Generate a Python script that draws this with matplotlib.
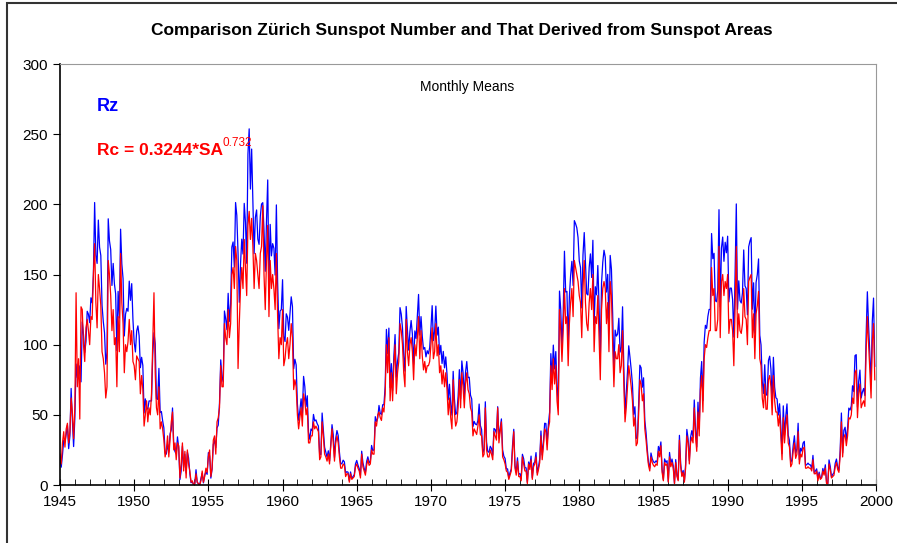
import numpy as np
import matplotlib.pyplot as plt
from matplotlib.patches import Rectangle

# monthly means, Jan..Dec, one row per year 1945-1999
years = np.arange(1945, 2000)

rz = [
    18.5, 12.7, 21.5, 32.0, 30.6, 36.2, 42.6, 25.9, 34.9, 68.8, 46.0, 27.4,      # 1945
    47.6, 86.2, 76.6, 75.7, 84.9, 73.5, 116.2, 107.2, 94.4, 102.3, 123.8, 121.7,  # 1946
    115.7, 133.4, 129.8, 149.8, 201.3, 163.9, 157.9, 188.8, 169.4, 163.6, 128.0, 116.5,
    108.5, 86.1, 94.8, 189.7, 174.0, 167.8, 142.2, 157.9, 143.3, 136.3, 95.8, 138.0,
    119.1, 182.3, 157.5, 147.0, 106.2, 121.7, 125.8, 123.8, 145.3, 131.6, 143.5, 117.6,
    101.6, 94.8, 109.7, 113.4, 106.2, 83.6, 91.0, 85.2, 51.3, 61.4, 54.8, 54.1,   # 1950
    59.9, 59.9, 59.9, 92.9, 108.5, 100.6, 61.5, 61.0, 83.1, 51.6, 52.4, 45.8,
    40.7, 22.7, 22.0, 29.1, 23.4, 36.4, 39.3, 54.9, 28.2, 23.8, 22.1, 34.3,
    26.5, 3.9, 10.0, 27.8, 12.5, 21.8, 8.6, 23.5, 19.3, 8.2, 1.6, 2.5,
    0.2, 0.5, 10.9, 1.8, 0.8, 0.2, 4.8, 8.4, 1.5, 7.0, 9.2, 7.6,
    23.1, 20.8, 4.9, 11.3, 28.9, 31.7, 26.7, 40.7, 42.7, 58.5, 89.2, 76.9,        # 1955
    73.6, 124.0, 118.4, 110.7, 136.6, 116.6, 129.1, 169.6, 173.2, 155.3, 201.3, 192.1,
    165.0, 130.2, 157.4, 175.2, 164.6, 200.7, 187.2, 158.0, 235.8, 253.8, 210.9, 239.4,
    202.5, 164.9, 190.7, 196.0, 175.3, 171.5, 191.4, 200.2, 201.2, 181.5, 152.3, 187.6,
    217.4, 143.1, 185.7, 163.3, 172.0, 168.7, 149.6, 199.6, 145.2, 111.4, 124.0, 125.0,
    146.3, 106.0, 102.2, 122.0, 119.6, 110.2, 121.7, 134.1, 127.2, 82.8, 89.6, 85.6,  # 1960
    57.9, 46.1, 53.0, 61.4, 51.0, 77.4, 70.2, 55.9, 63.6, 37.7, 32.6, 39.9,
    38.7, 50.3, 45.6, 46.4, 43.7, 42.0, 21.8, 21.8, 51.3, 39.5, 26.9, 23.2,
    19.8, 24.4, 17.1, 29.3, 43.0, 35.9, 19.6, 33.2, 38.8, 35.3, 23.4, 14.9,
    15.3, 17.7, 16.5, 8.6, 9.5, 9.1, 3.1, 9.3, 4.7, 6.1, 7.4, 15.1,
    17.5, 14.2, 11.7, 6.8, 24.1, 15.9, 11.9, 8.9, 16.8, 20.1, 15.8, 17.0,         # 1965
    28.2, 24.4, 25.3, 48.7, 45.3, 47.7, 56.7, 51.2, 50.2, 57.2, 57.2, 70.4,
    110.9, 93.6, 111.8, 69.5, 86.5, 67.3, 91.5, 107.2, 76.8, 88.2, 94.3, 126.4,
    121.8, 111.9, 92.2, 81.2, 127.2, 110.3, 96.1, 109.3, 117.2, 107.7, 86.0, 109.8,
    104.4, 120.5, 135.8, 106.8, 120.0, 106.0, 96.8, 98.0, 91.3, 95.7, 93.5, 97.9,
    111.5, 127.8, 102.9, 109.5, 127.5, 106.8, 112.5, 93.0, 99.5, 86.6, 95.2, 83.5,  # 1970
    91.3, 79.0, 60.7, 71.8, 57.5, 49.8, 81.0, 61.4, 50.2, 51.7, 63.2, 82.2,
    61.5, 88.4, 80.1, 63.2, 80.5, 88.0, 76.5, 76.8, 64.0, 61.3, 41.6, 45.3,
    43.4, 42.9, 46.0, 57.7, 42.4, 39.5, 23.1, 25.6, 59.3, 30.7, 23.9, 23.3,
    27.6, 26.0, 21.3, 40.3, 39.5, 36.6, 55.8, 33.6, 40.2, 47.1, 25.0, 20.5,
    18.9, 11.5, 11.5, 5.1, 9.0, 11.4, 28.2, 39.7, 13.9, 9.1, 19.4, 7.8,           # 1975
    8.1, 4.3, 21.9, 18.8, 12.4, 12.2, 1.9, 16.4, 13.5, 20.6, 5.2, 15.3,
    16.4, 23.1, 8.7, 12.9, 18.6, 38.5, 21.4, 30.1, 44.0, 43.8, 29.1, 43.2,
    51.9, 93.6, 76.5, 99.7, 82.7, 95.1, 70.4, 58.1, 138.2, 125.1, 97.9, 122.7,
    166.6, 137.5, 138.0, 101.5, 134.4, 149.5, 159.4, 142.2, 188.4, 186.2, 183.3, 176.3,
    159.6, 155.0, 126.2, 164.1, 179.9, 157.3, 136.3, 135.4, 155.0, 164.7, 147.9, 174.4,  # 1980
    114.0, 141.3, 135.5, 156.4, 127.5, 90.0, 143.8, 158.7, 167.3, 162.4, 137.5, 150.1,
    111.2, 163.6, 153.8, 122.0, 82.2, 110.4, 106.1, 107.6, 118.8, 94.7, 98.1, 127.0,
    84.3, 51.0, 66.5, 80.7, 99.2, 91.1, 82.2, 71.8, 50.3, 55.8, 33.3, 33.4,
    57.0, 85.4, 83.5, 69.7, 76.4, 46.1, 37.4, 25.5, 15.7, 12.0, 22.8, 18.7,
    16.5, 15.9, 17.2, 16.2, 27.5, 24.2, 30.7, 11.1, 3.9, 18.6, 16.2, 17.3,        # 1985
    2.5, 23.2, 15.1, 18.5, 13.7, 1.1, 18.1, 7.4, 3.8, 35.4, 15.2, 6.8,
    10.4, 2.4, 14.7, 39.6, 33.0, 17.4, 33.9, 38.7, 33.9, 60.6, 39.9, 27.1,
    59.0, 40.0, 76.2, 88.0, 60.1, 101.8, 113.8, 111.6, 120.1, 125.1, 125.1, 179.2,
    161.3, 165.1, 131.4, 130.6, 138.5, 196.2, 126.9, 168.9, 176.7, 159.4, 173.0, 165.5,
    177.3, 130.5, 140.3, 140.3, 132.2, 105.4, 149.4, 200.3, 125.2, 145.5, 131.4, 129.7,  # 1990
    136.9, 167.5, 141.9, 140.0, 121.3, 169.7, 173.7, 176.3, 125.3, 144.1, 108.2, 144.4,
    150.0, 161.1, 106.7, 99.8, 73.8, 65.2, 85.7, 64.5, 63.9, 88.7, 91.8, 82.6,
    59.3, 91.0, 69.8, 62.2, 61.3, 49.8, 57.9, 42.2, 22.4, 56.4, 35.6, 48.9,
    57.8, 35.5, 31.7, 16.1, 17.8, 28.0, 35.1, 22.5, 25.7, 44.0, 18.0, 26.2,
    24.2, 29.9, 31.1, 14.0, 14.5, 15.6, 14.5, 14.3, 11.8, 21.1, 9.0, 10.0,        # 1995
    11.5, 4.4, 9.2, 4.8, 5.5, 11.8, 8.2, 14.4, 1.6, 0.9, 17.9, 13.3,
    5.7, 7.6, 8.7, 15.5, 18.5, 12.7, 10.4, 24.4, 51.3, 22.8, 39.0, 41.2,
    31.9, 40.3, 54.8, 53.4, 56.3, 70.7, 66.6, 92.2, 92.9, 55.5, 74.0, 81.9,
    62.0, 66.3, 68.8, 63.7, 106.4, 137.7, 113.5, 93.7, 71.5, 116.7, 133.2, 84.6,
]

rc = [
    22, 15, 30, 38, 27, 40, 44, 30, 38, 62, 52, 33,                 # 1945
    55, 137, 70, 90, 47, 127, 125, 100, 88, 112, 118, 110,          # 1946
    100, 120, 118, 150, 172, 130, 112, 150, 140, 128, 95, 90,
    80, 62, 70, 160, 150, 135, 110, 125, 100, 105, 70, 120,
    95, 165, 130, 115, 80, 100, 95, 102, 118, 100, 110, 88,
    85, 75, 92, 90, 88, 65, 78, 68, 42, 50, 60, 45,                 # 1950
    55, 50, 65, 100, 137, 80, 55, 50, 70, 40, 45, 40,
    32, 20, 25, 35, 20, 33, 45, 52, 25, 30, 18, 30,
    28, 5, 15, 30, 10, 24, 5, 25, 15, 10, 2, 3,
    0, 1, 8, 2, 1, 0, 3, 10, 2, 6, 12, 9,
    20, 25, 6, 12, 32, 35, 22, 45, 48, 55, 85, 70,                  # 1955
    70, 115, 105, 100, 125, 105, 115, 150, 155, 140, 170, 160,
    83, 115, 140, 155, 140, 175, 155, 135, 185, 195, 175, 190,
    170, 140, 165, 160, 150, 140, 165, 170, 199, 150, 125, 160,
    185, 120, 160, 140, 150, 140, 125, 165, 120, 90, 105, 100,
    125, 85, 90, 100, 105, 90, 100, 115, 105, 68, 75, 70,           # 1960
    50, 40, 48, 55, 42, 65, 60, 50, 55, 30, 30, 35,
    35, 45, 40, 42, 40, 38, 18, 20, 45, 35, 22, 20,
    17, 22, 15, 27, 40, 30, 17, 30, 35, 30, 20, 12,
    12, 15, 14, 6, 8, 8, 2, 8, 4, 5, 6, 13,
    15, 12, 10, 5, 22, 13, 10, 7, 14, 18, 14, 15,                   # 1965
    25, 22, 22, 45, 42, 50, 52, 48, 46, 55, 52, 65,
    100, 80, 105, 60, 80, 60, 85, 100, 65, 80, 88, 115,
    110, 100, 80, 70, 118, 95, 85, 100, 105, 95, 75, 100,
    92, 105, 120, 90, 110, 92, 82, 88, 80, 85, 85, 88,
    100, 112, 90, 95, 115, 92, 100, 80, 85, 72, 82, 70,             # 1970
    80, 68, 50, 62, 48, 40, 75, 52, 42, 45, 55, 75,
    55, 80, 70, 55, 72, 80, 68, 65, 55, 52, 35, 40,
    38, 36, 42, 50, 36, 35, 20, 22, 55, 25, 20, 20,
    25, 22, 18, 38, 35, 32, 55, 30, 38, 45, 20, 18,
    15, 10, 9, 4, 7, 10, 25, 38, 12, 7, 17, 6,                      # 1975
    6, 3, 20, 15, 10, 10, 1, 15, 11, 18, 4, 13,
    15, 20, 7, 11, 16, 35, 18, 28, 40, 38, 25, 40,
    45, 85, 68, 90, 72, 85, 60, 50, 125, 110, 88, 110,
    140, 115, 120, 85, 115, 130, 140, 120, 160, 155, 150, 145,
    135, 130, 105, 140, 160, 130, 115, 110, 130, 140, 125, 150,     # 1980
    95, 120, 115, 135, 105, 75, 125, 140, 145, 140, 115, 130,
    95, 145, 135, 100, 70, 95, 90, 90, 100, 80, 85, 110,
    72, 45, 55, 70, 85, 78, 70, 60, 42, 48, 28, 30,
    50, 75, 72, 60, 65, 40, 32, 22, 14, 10, 20, 16,
    14, 13, 15, 14, 24, 20, 28, 9, 3, 16, 14, 15,                   # 1985
    2, 20, 13, 16, 12, 1, 16, 6, 3, 32, 13, 6,
    9, 2, 12, 35, 30, 15, 30, 34, 30, 55, 35, 24,
    52, 35, 68, 78, 52, 90, 100, 98, 105, 110, 110, 155,
    135, 140, 110, 110, 118, 170, 105, 145, 150, 135, 145, 140,
    150, 108, 118, 118, 110, 85, 125, 170, 105, 122, 110, 108,      # 1990
    115, 140, 120, 118, 100, 145, 148, 150, 105, 122, 90, 122,
    128, 138, 90, 85, 62, 55, 72, 54, 54, 75, 78, 70,
    50, 78, 60, 52, 52, 42, 50, 35, 18, 48, 30, 42,
    50, 30, 27, 13, 15, 24, 30, 19, 22, 38, 15, 22,
    20, 26, 27, 12, 12, 13, 12, 12, 10, 18, 8, 8,                   # 1995
    10, 3, 8, 4, 5, 10, 7, 12, 1, 1, 15, 11,
    5, 6, 7, 13, 16, 11, 9, 21, 45, 20, 34, 36,
    28, 35, 48, 47, 50, 62, 58, 80, 82, 48, 65, 72,
    55, 58, 60, 56, 95, 120, 100, 82, 62, 102, 115, 75,
]

t = np.repeat(years, 12) + np.tile(np.arange(12), len(years)) / 12.0

plt.rcParams['font.family'] = ['Liberation Sans', 'DejaVu Sans']

fig = plt.figure(figsize=(8.97, 5.43), dpi=100)
ax = fig.add_axes([0.0669, 0.1068, 0.9097, 0.7753])

ax.plot(t, rz, color='#0000FF', lw=0.9)
ax.plot(t, rc, color='#FF0000', lw=0.9)

ax.set_xlim(1945, 2000)
ax.set_ylim(0, 300)
ax.set_xticks(np.arange(1945, 2001, 5))
ax.set_xticks(np.arange(1945, 2001, 1), minor=True)
ax.set_yticks(np.arange(0, 301, 50))
ax.tick_params(axis='x', which='major', direction='inout', length=8, labelsize=11, pad=3)
ax.tick_params(axis='x', which='minor', direction='in', length=4)
ax.tick_params(axis='y', which='major', direction='out', length=5, labelsize=11)

for s in ['top', 'right']:
    ax.spines[s].set_color('#999999')
for s in ['left', 'bottom']:
    ax.spines[s].set_color('black')
    ax.spines[s].set_linewidth(1.2)

fig.text(0.515, 0.943, 'Comparison Zürich Sunspot Number and That Derived from Sunspot Areas',
         ha='center', va='center', fontsize=12.5, fontweight='bold')
ax.text(0.499, 0.945, 'Monthly Means', transform=ax.transAxes, ha='center', va='center', fontsize=10)
ax.text(0.045, 0.90, 'Rz', transform=ax.transAxes, color='#0000FF', fontsize=13,
        fontweight='bold', va='center')
rc_lab = ax.text(0.045, 0.795, 'Rc = 0.3244*SA', transform=ax.transAxes, color='#FF0000',
                 fontsize=12.5, fontweight='bold', va='center')
ax.annotate('0.732', xy=(1, 1), xycoords=rc_lab, xytext=(0, 4), textcoords='offset points',
            ha='left', va='top', color='#FF0000', fontsize=8.5)

# outer chart frame
fig.patches.append(Rectangle((0.008, -0.1), 1.2, 1.094, transform=fig.transFigure,
                             fill=False, edgecolor='#333333', lw=1.5))

fig.savefig('out.png', dpi=100)
